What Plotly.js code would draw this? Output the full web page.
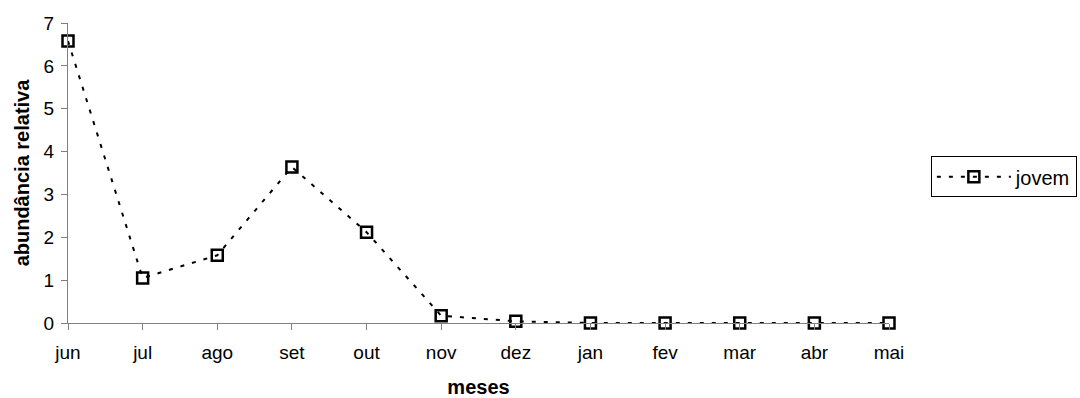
<!DOCTYPE html>
<html>
<head>
<meta charset="utf-8">
<script src="https://cdn.plot.ly/plotly-3.0.1.min.js"></script>
<style>
html,body{margin:0;padding:0;background:#fff;}
#chart{width:1080px;height:398px;}
</style>
</head>
<body>
<div id="chart"></div>
<script>
const meses = ["jun","jul","ago","set","out","nov","dez","jan","fev","mar","abr","mai"];
const jovem = [6.58, 1.05, 1.58, 3.64, 2.12, 0.17, 0.04, 0, 0, 0, 0, 0];
const yTicks = [0,1,2,3,4,5,6,7];
const serieNome = "jovem";
const tituloX = "meses";
const tituloY = "abundância relativa";

const FONT = "Liberation Sans, Arial, sans-serif";

const trace = {
  x: meses,
  y: jovem,
  name: serieNome,
  type: "scatter",
  mode: "lines+markers",
  cliponaxis: false,
  line: {color: "#000000", width: 2, dash: "4px,8px"},
  marker: {symbol: "square-open", size: 11, color: "#000000", line: {width: 2.5, color: "#000000"}}
};

const layout = {
  width: 1080,
  height: 398,
  paper_bgcolor: "#ffffff",
  plot_bgcolor: "#ffffff",
  font: {family: FONT, size: 19, color: "#000000"},
  margin: {l: 68, r: 191, t: 23, b: 75, autoexpand: false},
  showlegend: true,
  legend: {
    x: 1.051, xanchor: "left",
    y: 0.556, yanchor: "top",
    bordercolor: "#000000", borderwidth: 1,
    font: {family: FONT, size: 20, color: "#000000"},
    itemwidth: 74,
    tracegroupgap: 0
  },
  xaxis: {
    type: "category",
    range: [0, 11],
    showline: true, linecolor: "#808080", linewidth: 1,
    ticks: "outside", ticklen: 6, tickcolor: "#808080", tickwidth: 1,
    ticklabelstandoff: 6,
    showgrid: false, zeroline: false,
    tickfont: {family: FONT, size: 19, color: "#000000"},
    title: {text: "<b>" + tituloX + "</b>", font: {family: FONT, size: 20, color: "#000000"}, standoff: 20}
  },
  yaxis: {
    range: [0, 7],
    tickvals: yTicks,
    showline: true, linecolor: "#808080", linewidth: 1,
    ticks: "outside", ticklen: 6, tickcolor: "#808080", tickwidth: 1,
    ticklabelstandoff: 3,
    showgrid: false, zeroline: false,
    tickfont: {family: FONT, size: 19, color: "#000000"},
    title: {text: "<b>" + tituloY + "</b>", font: {family: FONT, size: 20, color: "#000000"}, standoff: 8}
  }
};

Plotly.newPlot("chart", [trace], layout, {displayModeBar: false, staticPlot: true});
</script>
</body>
</html>
